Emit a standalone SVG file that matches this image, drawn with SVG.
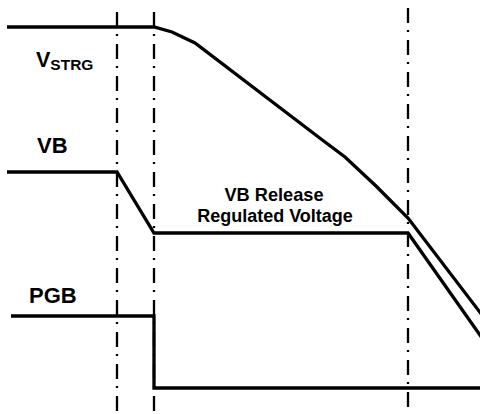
<svg xmlns="http://www.w3.org/2000/svg" width="480" height="414" viewBox="0 0 480 414">
<style>
.sig{fill:none;stroke:#000;stroke-width:3.3;stroke-linejoin:miter;stroke-linecap:butt}
.guide{fill:none;stroke:#000;stroke-width:2.3;stroke-dasharray:15 7 2 8}
.lbl{font-family:"Liberation Sans",Arial,sans-serif;font-weight:bold;fill:#000}
</style>
<rect width="480" height="414" fill="#fff"/>
<g id="guides">
<line class="guide" x1="117" y1="12" x2="117" y2="414"/>
<line class="guide" x1="154" y1="12" x2="154" y2="414"/>
<line class="guide" x1="408" y1="8" x2="408" y2="414"/>
</g>
<g id="connectors">
<polyline id="vstrg-line" class="sig" points="7,27 154,27 172,32 195,43 321,139 345,157 376,186 408,218 482,315"/>
<polyline id="vb-line" class="sig" points="7,172 117,172 154,233 408,233 482,338"/>
<polyline id="pgb-line" class="sig" points="11,316 154,316 154,388 480,388"/>
</g>
<g id="vstrg">
<text class="lbl" x="36" y="67" font-size="21.5">V<tspan font-size="15.5" dy="3">STRG</tspan></text>
</g>
<g id="vb">
<text class="lbl" x="37" y="153" font-size="22">VB</text>
</g>
<g id="pgb">
<text class="lbl" x="29" y="303" font-size="22">PGB</text>
</g>
<g id="release-label">
<text class="lbl" x="274" y="201" font-size="18.2" text-anchor="middle">VB Release</text>
<text class="lbl" x="275" y="222" font-size="18" text-anchor="middle">Regulated Voltage</text>
</g>
</svg>
